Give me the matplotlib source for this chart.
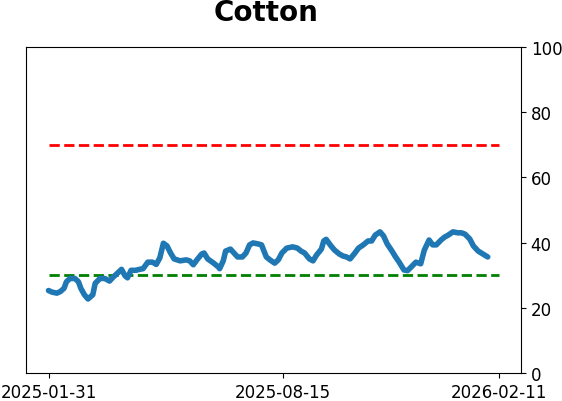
import matplotlib
matplotlib.use("Agg")
import matplotlib.pyplot as plt
import matplotlib.dates as mdates
import pandas as pd

title = "Cotton"
start_date = "2025-01-31"
end_date = "2026-02-11"
tick_labels = ["2025-01-31", "2025-08-15", "2026-02-11"]
y_ticks = [0, 20, 40, 60, 80, 100]
upper_level = 70
lower_level = 30

day_offsets = [0, 3, 7, 10, 13, 15, 18, 22, 25, 27, 30, 33, 37, 39, 43, 47, 51, 54, 57, 61,
               64, 66, 69, 73, 76, 79, 83, 87, 90, 93, 96, 99, 102, 105, 110, 115, 118, 121, 124, 128,
               130, 133, 138, 142, 143, 146, 148, 152, 155, 158, 162, 165, 168, 171, 175, 178, 182, 185, 189, 192,
               195, 199, 204, 208, 211, 214, 218, 221, 224, 228, 230, 232, 236, 239, 243, 246, 249, 252, 256, 259,
               263, 267, 270, 273, 277, 280, 283, 287, 290, 293, 297, 300, 303, 307, 311, 314, 318, 321, 324, 328,
               331, 334, 338, 342, 345, 348, 352, 355, 359, 363, 367]
values = [25.3, 24.8, 24.5, 25.0, 26.0, 28.0, 29.0, 29.0, 28.0, 26.0, 24.0, 22.7, 24.0, 27.5, 29.0, 29.0, 28.2, 29.4, 30.4, 31.8,
          29.8, 29.2, 31.5, 31.5, 31.8, 32.0, 34.0, 34.0, 33.3, 35.3, 39.8, 39.0, 36.8, 35.0, 34.4, 34.7, 34.4, 33.2, 34.7, 36.5,
          36.8, 35.0, 33.7, 32.5, 32.0, 34.4, 37.4, 38.0, 36.8, 35.6, 35.6, 36.8, 39.3, 39.9, 39.6, 39.3, 35.6, 34.7, 33.7, 34.7,
          36.8, 38.3, 38.7, 38.3, 37.4, 36.8, 35.0, 34.4, 36.2, 38.0, 40.5, 41.0, 39.0, 37.7, 36.5, 35.9, 35.6, 35.0, 36.8, 38.3,
          39.3, 40.5, 40.5, 42.3, 43.3, 42.0, 39.6, 37.4, 35.6, 34.0, 31.6, 31.4, 32.5, 34.0, 33.5, 37.7, 40.8, 39.3, 39.3, 40.8,
          41.7, 42.3, 43.3, 43.0, 43.0, 42.6, 41.1, 39.0, 37.4, 36.5, 35.6]

dates = pd.Timestamp(start_date) + pd.to_timedelta(day_offsets, unit="D")
ref_dates = pd.to_datetime([start_date, end_date])

fig = plt.figure(figsize=(5.62, 4.02), dpi=100)
ax = fig.add_axes([26/562, 28/402, 495/562, 326/402])

ax.plot(dates, values, color="#1f77b4", linewidth=4, solid_capstyle="round", zorder=3)
ax.plot(ref_dates, [upper_level, upper_level], color="red", linestyle="--", linewidth=2)
ax.plot(ref_dates, [lower_level, lower_level], color="green", linestyle="--", linewidth=2)

ax.set_ylim(0, 100)
ax.set_yticks(y_ticks)
ax.yaxis.tick_right()
ax.set_xlim(pd.Timestamp(start_date) - pd.Timedelta(days=18.8),
            pd.Timestamp(end_date) + pd.Timedelta(days=18.8))
ax.set_xticks(pd.to_datetime(tick_labels))
ax.set_xticklabels(tick_labels)
ax.tick_params(axis="both", labelsize=12)

fig.text(266/562, 1 - 13/402, title, ha="center", va="center", fontsize=20, fontweight="bold")

fig.savefig("out.png", dpi=100)
